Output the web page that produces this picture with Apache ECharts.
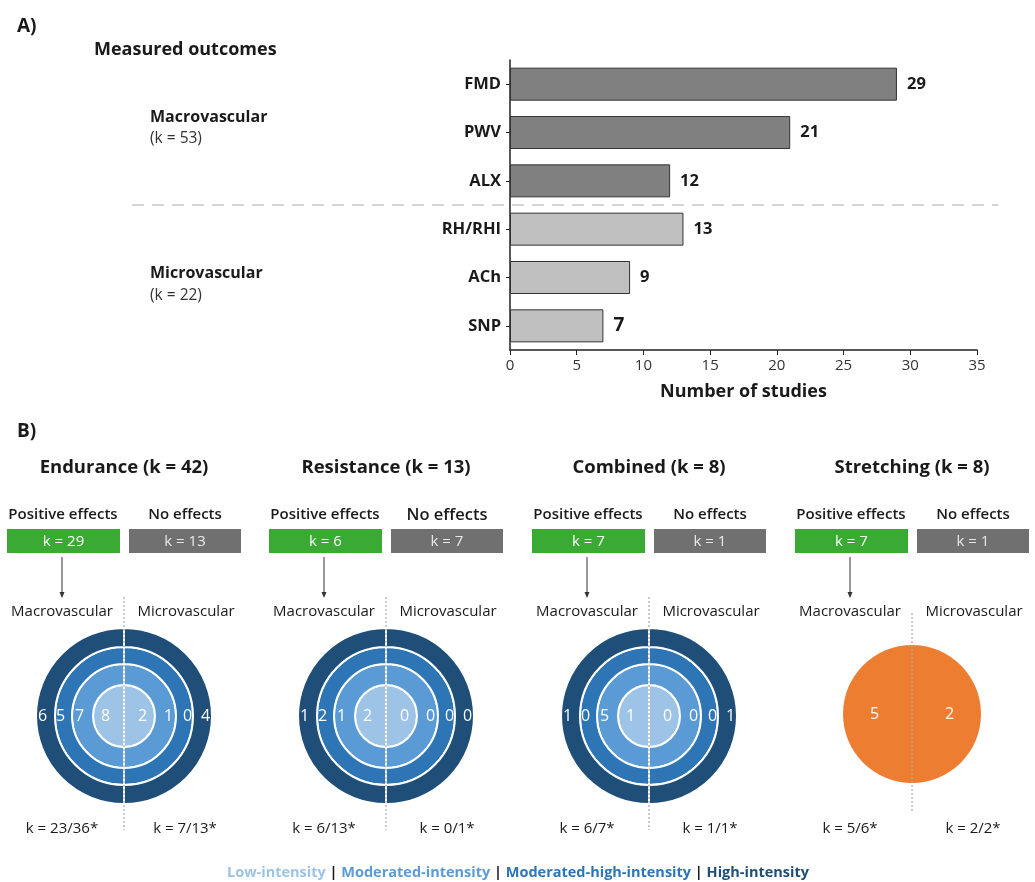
<!DOCTYPE html>
<html>
<head>
<meta charset="utf-8">
<script src="https://cdn.jsdelivr.net/npm/echarts@6/dist/echarts.min.js"></script>
<style>html,body{margin:0;padding:0;background:#fff;}#c{width:1035px;height:882px;}</style>
</head>
<body>
<div id="c"></div>
<script>
// ---- Panel A data ----
const categories = ['FMD', 'PWV', 'ALX', 'RH/RHI', 'ACh', 'SNP'];
const studies = [29, 21, 12, 13, 9, 7];
const categoryGroup = ['macro', 'macro', 'macro', 'micro', 'micro', 'micro'];
const groupNames = ['Macrovascular', 'Microvascular'];
const groupK = [53, 22];
const xTickMin = 0, xTickMax = 35, xTickStep = 5;

// ---- Panel B data ----
const programs = ['Endurance', 'Resistance', 'Combined', 'Stretching'];
const programK = [42, 13, 8, 8];
const positiveK = [29, 6, 7, 7];
const noEffectK = [13, 7, 1, 1];
// ring counts, inner (low) -> outer (high intensity)
const macroRings = [[8, 7, 5, 6], [2, 1, 2, 1], [1, 5, 0, 1], [5]];
const microRings = [[2, 1, 0, 4], [0, 0, 0, 0], [0, 0, 0, 1], [2]];
const macroRatio = ['23/36', '6/13', '6/7', '5/6'];
const microRatio = ['7/13', '0/1', '1/1', '2/2'];
const intensityLevels = ['Low-intensity', 'Moderated-intensity', 'Moderated-high-intensity', 'High-intensity'];

// ---- styles ----
const FONT = "'Open Sans', 'Noto Sans', sans-serif";
const TXT = '#1a1a1a';
const ringColors = ['#9dc3e6', '#5b9bd5', '#2e75b6', '#1f4e79'];
const stretchColor = '#ed7d31';
const greenBox = '#3aaa35';
const grayBox = '#707070';
const barColors = { macro: '#808080', micro: '#c0c0c0' };

const chart = echarts.init(document.getElementById('c'), null, { renderer: 'canvas' });

const graphic = [];
function txt(text, x, y, size, weight, opts) {
  opts = opts || {};
  graphic.push({
    type: 'text', z: 50, silent: true,
    style: Object.assign({
      text: text, x: x, y: y, fill: opts.fill || TXT,
      fontSize: size, fontWeight: weight || 'normal', fontFamily: FONT,
      textAlign: opts.align || 'left', textVerticalAlign: 'middle'
    }, opts.extra || {})
  });
}

// Panel A texts
txt('A)', 17, 27, 19, 'bold');
txt('Measured outcomes', 94, 50, 18, 'bold');
txt(groupNames[0], 150, 117, 16, 'bold');
txt('(k = ' + groupK[0] + ')', 150, 139, 15.5, 'normal', { fill: '#333' });
txt(groupNames[1], 150, 273, 16, 'bold');
txt('(k = ' + groupK[1] + ')', 150, 296, 15.5, 'normal', { fill: '#333' });
graphic.push({
  type: 'line', z: 5, silent: true,
  shape: { x1: 132, y1: 205, x2: 998, y2: 205 },
  style: { stroke: '#c8c8c8', lineWidth: 1.5, lineDash: [12, 8] }
});

// Panel B
txt('B)', 17, 432, 19, 'bold');
const colCx = [124, 386, 649, 912];
const circleCy = 716;
const ringRadii = [[0, 31], [31, 52], [52, 69], [69, 88]];
const series = [];

// bar series
series.push({
  type: 'bar',
  xAxisIndex: 0, yAxisIndex: 0,
  barWidth: 33,
  data: studies.map((v, i) => ({
    value: v,
    itemStyle: { color: barColors[categoryGroup[i]], borderColor: '#333', borderWidth: 1 },
    label: i === 5 ? { fontSize: 19 } : undefined
  })),
  label: {
    show: true, position: 'right', distance: 10,
    color: TXT, fontFamily: FONT, fontWeight: 'bold', fontSize: 16.5
  },
  silent: true
});

programs.forEach((p, j) => {
  const cx = colCx[j];
  txt(p + ' (k = ' + programK[j] + ')', cx, 468, 18.5, 'bold', { align: 'center' });
  txt('Positive effects', cx - 61, 515, 15, 600, { align: 'center' });
  txt('No effects', cx + 61, 515, j === 1 ? 16.5 : 15, 600, { align: 'center' });
  graphic.push({ type: 'rect', z: 10, silent: true, shape: { x: cx - 117, y: 529, width: 113, height: 24 }, style: { fill: greenBox } });
  graphic.push({ type: 'rect', z: 10, silent: true, shape: { x: cx + 5, y: 529, width: 112, height: 24 }, style: { fill: grayBox } });
  txt('k = ' + positiveK[j], cx - 60.5, 541.5, 15, 'normal', { align: 'center', fill: '#fff' });
  txt('k = ' + noEffectK[j], cx + 61, 541.5, 15, 'normal', { align: 'center', fill: '#e8e8e8' });
  // arrow
  graphic.push({ type: 'line', z: 10, silent: true, shape: { x1: cx - 62, y1: 557, x2: cx - 62, y2: 596 }, style: { stroke: '#333', lineWidth: 1 } });
  graphic.push({ type: 'polygon', z: 10, silent: true, shape: { points: [[cx - 64.5, 592], [cx - 59.5, 592], [cx - 62, 598]] }, style: { fill: '#333' } });
  txt('Macrovascular', cx - 62, 612, 15, 'normal', { align: 'center' });
  txt('Microvascular', cx + 62, 612, 15, 'normal', { align: 'center' });
  txt('k = ' + macroRatio[j] + '*', cx - 62, 829, 15, 'normal', { align: 'center' });
  txt('k = ' + microRatio[j] + '*', cx + 61, 829, 15, 'normal', { align: 'center' });
  // dotted divider
  const isStretch = macroRings[j].length === 1;
  graphic.push({
    type: 'line', z: 60, silent: true,
    shape: { x1: cx, y1: isStretch ? 613 : 597, x2: cx, y2: isStretch ? 812 : 830 },
    style: { stroke: '#a8a8a8', lineWidth: 1.2, lineDash: [2, 2] }
  });

  macroRings[j].forEach((m, r) => {
    const radius = isStretch ? [0, 69] : ringRadii[r];
    const color = isStretch ? stretchColor : ringColors[r];
    series.push({
      type: 'pie',
      center: [cx, isStretch ? circleCy - 2 : circleCy],
      radius: radius,
      startAngle: 90,
      clockwise: true,
      silent: true,
      z: 2 + r,
      avoidLabelOverlap: false,
      itemStyle: { color: color, borderColor: '#fff', borderWidth: isStretch ? 0 : 2 },
      label: {
        show: true, position: 'inside', color: '#fff',
        fontFamily: FONT, fontSize: 16, formatter: (p) => p.data.count
      },
      labelLine: { show: false },
      emphasis: { disabled: true },
      data: [
        { value: 1, name: 'Microvascular', count: String(microRings[j][r]) },
        { value: 1, name: 'Macrovascular', count: String(m) }
      ]
    });
  });
});

// legend line
const richParts = intensityLevels.map((t, i) => '{l' + i + '|' + t + '}').join('{s| | }');
const rich = { s: { fill: TXT, fontSize: 14.5, fontWeight: 'bold', fontFamily: FONT } };
intensityLevels.forEach((t, i) => {
  rich['l' + i] = { fill: ringColors[i], fontSize: 14.5, fontWeight: 'bold', fontFamily: FONT };
});
graphic.push({
  type: 'text', z: 50, silent: true,
  style: { text: richParts, rich: rich, x: 518, y: 873, textAlign: 'center', textVerticalAlign: 'middle', fontSize: 14.5, fontFamily: FONT, fontWeight: 'bold' }
});

chart.setOption({
  animation: false,
  backgroundColor: '#ffffff',
  grid: { left: 510, right: 58, top: 60, bottom: 532, containLabel: false },
  xAxis: {
    type: 'value', min: xTickMin, max: xTickMax, interval: xTickStep,
    name: 'Number of studies', nameLocation: 'middle', nameGap: 33,
    nameTextStyle: { color: TXT, fontFamily: FONT, fontWeight: 'bold', fontSize: 18 },
    axisLine: { show: true, lineStyle: { color: '#222', width: 1.5 } },
    axisTick: { show: true, length: 5, lineStyle: { color: '#222' } },
    axisLabel: { color: '#333', fontFamily: FONT, fontSize: 15, margin: 8 },
    splitLine: { show: false }
  },
  yAxis: {
    type: 'category', data: categories, inverse: true,
    axisLine: { show: true, lineStyle: { color: '#222', width: 1.5 } },
    axisTick: { show: true, alignWithLabel: true, length: 4, lineStyle: { color: '#222' } },
    axisLabel: { color: TXT, fontFamily: FONT, fontWeight: 'bold', fontSize: 16.5, margin: 9 }
  },
  series: series,
  graphic: graphic
});
</script>
</body>
</html>
